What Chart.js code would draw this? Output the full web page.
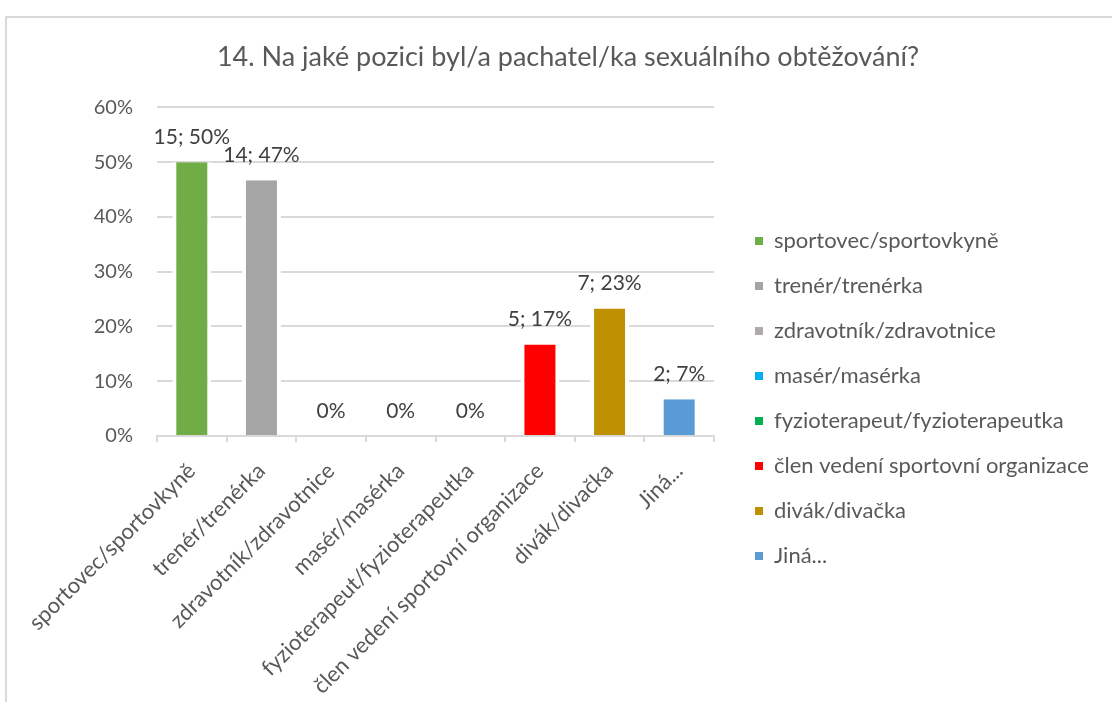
<!DOCTYPE html>
<html>
<head>
<meta charset="utf-8">
<script src="https://cdn.jsdelivr.net/npm/chart.js@4.4.1/dist/chart.umd.min.js"></script>
<style>
  html, body { margin: 0; background: #fff; }
  #wrap { position: relative; width: 1112px; height: 709px; }
  #frame {
    position: absolute; left: 5px; top: 16px; right: 0; height: 684px;
    border-top: 2px solid #d9d9d9; border-left: 2px solid #d9d9d9;
    pointer-events: none;
  }
</style>
</head>
<body>
<div id="wrap">
  <canvas id="chart" width="1112" height="709"></canvas>
  <div id="frame"></div>
</div>
<script>
// data (30 answers in total)
const categories = [
  "sportovec/sportovkyně",
  "trenér/trenérka",
  "zdravotník/zdravotnice",
  "masér/masérka",
  "fyzioterapeut/fyzioterapeutka",
  "člen vedení sportovní organizace",
  "divák/divačka",
  "Jiná..."
];
const counts = [15, 14, 0, 0, 0, 5, 7, 2];
const shares = [50, 46.7, 0, 0, 0, 16.7, 23.3, 6.7];
const shareLabels = ["50%", "47%", "0%", "0%", "0%", "17%", "23%", "7%"];
const barColors = ["#70AD47", "#A5A5A5", "#AEAAAA", "#00B0F0", "#00B050", "#FF0000", "#BF9000", "#5B9BD5"];
const yTicks = [0, 10, 20, 30, 40, 50, 60];

const FONT = "Lato";
const TEXT = "#595959";
const GRID = "#d9d9d9";

// "15; 50%" style labels above the bars
const barLabels = {
  id: "barLabels",
  afterDatasetsDraw(chart) {
    const ctx = chart.ctx;
    const meta = chart.getDatasetMeta(0);
    ctx.save();
    ctx.font = "21px " + FONT;
    ctx.fillStyle = "#404040";
    ctx.textAlign = "center";
    ctx.textBaseline = "middle";
    meta.data.forEach((bar, i) => {
      const txt = counts[i] ? counts[i] + "; " + shareLabels[i] : shareLabels[i];
      ctx.fillText(txt, bar.x, bar.y - 25);
    });
    ctx.restore();
  }
};

// fixed legend width so the plot area ends where the original does
const legendWidth = {
  id: "legendWidth",
  afterInit(chart) {
    const fit = chart.legend.fit;
    chart.legend.fit = function () {
      fit.call(this);
      this.width = 380;
    };
  }
};

new Chart(document.getElementById("chart"), {
  type: "bar",
  data: {
    labels: categories,
    datasets: [{
      data: shares,
      backgroundColor: barColors,
      borderColor: "#ffffff",
      borderWidth: { left: 4, right: 4, top: 0, bottom: 0 },
      barPercentage: 0.56,
      categoryPercentage: 1
    }]
  },
  options: {
    responsive: false,
    animation: false,
    layout: { padding: { left: 24 } },
    scales: {
      x: {
        grid: { display: true, drawOnChartArea: false, drawTicks: true, tickLength: 6, color: GRID, lineWidth: 2 },
        border: { display: true, color: GRID, width: 2 },
        ticks: {
          color: TEXT,
          font: { family: FONT, size: 22 },
          minRotation: 45,
          maxRotation: 45,
          padding: 16,
          autoSkip: false
        },
        afterFit: (s) => { s.height = 273; }
      },
      y: {
        min: 0,
        max: 60,
        afterBuildTicks: (s) => { s.ticks = yTicks.map((v) => ({ value: v })); },
        grid: { color: GRID, lineWidth: 2, drawTicks: false },
        border: { display: false },
        ticks: {
          color: TEXT,
          font: { family: FONT, size: 20 },
          padding: 24,
          callback: (v) => v + "%"
        },
        afterFit: (s) => { s.width = 133; }
      },
      gap: {
        type: "linear",
        position: "right",
        display: true,
        grid: { display: false },
        border: { display: false },
        ticks: { display: false },
        afterFit: (s) => { s.width = 18; }
      }
    },
    plugins: {
      title: {
        display: true,
        text: "14. Na jaké pozici byl/a pachatel/ka sexuálního obtěžování?",
        color: TEXT,
        font: { family: FONT, size: 27, weight: "normal" },
        padding: { top: 41, bottom: 34 }
      },
      legend: {
        position: "right",
        onClick: null,
        title: {
          display: true,
          text: " ",
          font: { size: 10 },
          padding: { top: 76, bottom: 0 }
        },
        labels: {
          color: TEXT,
          font: { family: FONT, size: 22 },
          boxWidth: 8,
          boxHeight: 8,
          padding: 23,
          generateLabels: () => categories.map((c, i) => ({
            text: c,
            fillStyle: barColors[i],
            strokeStyle: barColors[i],
            lineWidth: 0,
            fontColor: TEXT,
            hidden: false,
            index: i,
            datasetIndex: 0
          }))
        }
      },
      tooltip: { enabled: false }
    }
  },
  plugins: [barLabels, legendWidth]
});
</script>
</body>
</html>
